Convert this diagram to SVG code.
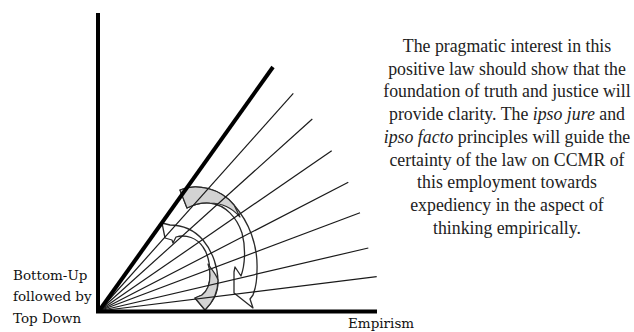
<svg xmlns="http://www.w3.org/2000/svg" width="634" height="332" viewBox="0 0 634 332">
<style>
.ray{stroke:#1a1a1a;stroke-width:1.2;fill:none}
.axis{stroke:#000;stroke-width:4;fill:none;stroke-linecap:butt}
.arr{stroke:#2a2a2a;stroke-width:1.3;fill:#fff;stroke-linejoin:round}
.shade{stroke:#2a2a2a;stroke-width:1.2;fill:#d3d3d3;stroke-linejoin:round}
.lbl{font-family:"DejaVu Serif",serif;font-size:13.5px;fill:#111}
.body{font-family:"Liberation Serif","Times New Roman",serif;font-size:17.8px;fill:#222;text-anchor:middle}
</style>
<rect width="634" height="332" fill="#fff"/>
<g id="arrow-large">
<path class="arr" d="M180,190 C196,183 220,188 234,205 C249,222 258,245 257,270 C257,282 255,290 253,295 L250,299 L253,308 L234,293 L234,272 L235,267 L241,276 C245,265 246,248 242,233 C237,218 226,205 210,203 C200,202 193,205 187,208 Z"/>
<path class="shade" d="M180,190 C196,183 220,188 234,205 L240,217 C233,209 223,203 210,203 C200,202 193,205 187,208 Z"/>
</g>
<g id="arrow-small">
<path class="arr" d="M205,310 C212,302 218,295 218,282 C218,268 213,252 203,240 C195,231 183,225 170,225 L162,223 L165,238 L172,240 L173,243 L176,237 C186,234 197,238 203,247 C208,254 210,264 210,275 C210,285 206,292 202,295 L195,298 Z"/>
<path class="shade" d="M208,264 C212,270 216,274 218,280 C218,292 212,303 205,310 L195,298 L202,295 C206,292 210,285 210,275 C210,270 209,267 208,264 Z"/>
</g>
<g id="connectors">
<line class="ray" x1="99" y1="311" x2="293.3" y2="93.3"/>
<line class="ray" x1="99" y1="311" x2="312.3" y2="119"/>
<line class="ray" x1="99" y1="311" x2="331.7" y2="150.7"/>
<line class="ray" x1="99" y1="311" x2="348.3" y2="182.3"/>
<line class="ray" x1="99" y1="311" x2="360" y2="212.7"/>
<line class="ray" x1="99" y1="311" x2="368.3" y2="248"/>
<line class="ray" x1="99" y1="311" x2="376.7" y2="276.7"/>
<line class="axis" x1="99" y1="311" x2="273" y2="67" stroke-width="4.5"/>
</g>
<g id="axes">
<line class="axis" x1="98" y1="13" x2="98" y2="313"/>
<line class="axis" x1="96" y1="311.5" x2="377" y2="311.5" stroke-width="3.5"/>
</g>
<g id="label-left">
<text class="lbl" x="13" y="280">Bottom-Up</text>
<text class="lbl" x="13" y="301">followed by</text>
<text class="lbl" x="13" y="323">Top Down</text>
</g>
<g id="label-empirism">
<text class="lbl" x="348" y="328">Empirism</text>
</g>
<g id="description">
<text class="body" x="507" y="52">The pragmatic interest in this</text>
<text class="body" x="507" y="74.7">positive law should show that the</text>
<text class="body" x="507" y="97.4">foundation of truth and justice will</text>
<text class="body" x="507" y="120.1">provide clarity. The <tspan font-style="italic">ipso jure</tspan> and</text>
<text class="body" x="507" y="142.8"><tspan font-style="italic">ipso facto</tspan> principles will guide the</text>
<text class="body" x="507" y="165.5">certainty of the law on CCMR of</text>
<text class="body" x="507" y="188.2">this employment towards</text>
<text class="body" x="507" y="210.9">expediency in the aspect of</text>
<text class="body" x="507" y="233.6">thinking empirically.</text>
</g>
</svg>
